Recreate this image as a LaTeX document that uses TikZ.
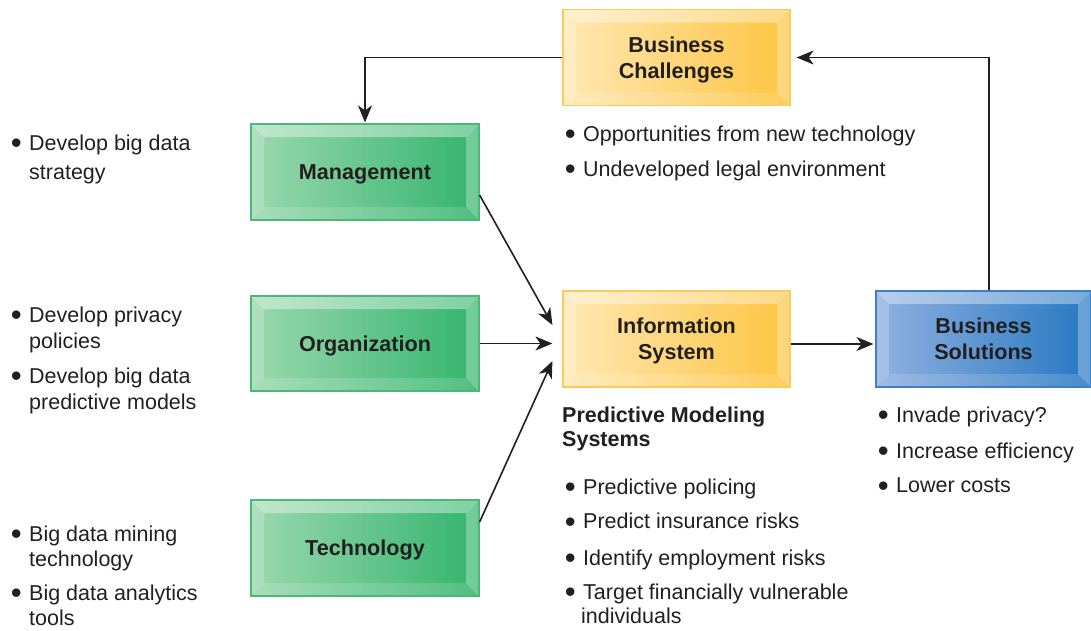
\documentclass[tikz,border=0pt]{standalone}
\usepackage{fontspec}
\setmainfont{Liberation Sans}
\usetikzlibrary{arrows.meta}
\definecolor{ink}{HTML}{231F20}
\definecolor{gL}{HTML}{9AD8AE}\definecolor{gR}{HTML}{33B46D}\definecolor{gB}{HTML}{4CB878}
\definecolor{yL}{HTML}{FEE8B4}\definecolor{yR}{HTML}{FDC440}\definecolor{yB}{HTML}{F8CB5A}
\definecolor{bL}{HTML}{8FB0DF}\definecolor{bR}{HTML}{2778C2}\definecolor{bB}{HTML}{3F7EC6}
\newcommand\pb[1]{(path picture bounding box.#1)}
\newcommand\pbs[3]{([xshift=#2,yshift=#3]path picture bounding box.#1)}
\tikzset{
  bevel/.style={rectangle, draw=#1B, line width=1.2pt, left color=#1L, right color=#1R,
    text=ink, font=\fontsize{21.6}{26}\selectfont\bfseries, align=center, inner sep=0pt,
    text depth=0pt, minimum width=228pt, minimum height=96pt,
    path picture={
      \fill[white,opacity=.38] \pb{north west} -- \pb{north east} -- \pbs{north east}{-13pt}{-13pt} -- \pbs{north west}{13pt}{-13pt} -- cycle;
      \fill[white,opacity=.22] \pb{north west} -- \pb{south west} -- \pbs{south west}{13pt}{13pt} -- \pbs{north west}{13pt}{-13pt} -- cycle;
      \fill[white,opacity=.15] \pb{south west} -- \pb{south east} -- \pbs{south east}{-13pt}{13pt} -- \pbs{south west}{13pt}{13pt} -- cycle;
      \fill[white,opacity=.30] \pb{north east} -- \pb{south east} -- \pbs{south east}{-13pt}{13pt} -- \pbs{north east}{-13pt}{-13pt} -- cycle;
    }},
  arr/.style={draw=ink, line width=1.6pt, -{Stealth[length=17pt,width=14pt,inset=5pt]}},
  txt/.style={inner sep=0pt, anchor=base west, text=ink, font=\fontsize{21.5}{26}\selectfont},
  hd/.style={txt, font=\fontsize{21.5}{26}\selectfont\bfseries},
}
\newcommand\bu{\makebox[0pt][r]{\raisebox{-3.6pt}{\scalebox{1.45}{\textbullet}}\hspace{7.5pt}}}
\begin{document}
\begin{tikzpicture}[x=1pt,y=-1pt]
\useasboundingbox (0,0) rectangle (1091,630);
% boxes
\node[bevel=y, minimum width=227pt] (chal) at (676.5,57.5) {Business\\Challenges};
\node[bevel=g] (mgmt) at (365,172) {Management};
\node[bevel=g, minimum height=95pt] (org) at (365,343.5) {Organization};
\node[bevel=g] (tech) at (365,548) {Technology};
\node[bevel=y, minimum width=227pt] (info) at (676.5,339) {Information\\System};
\node[bevel=b, minimum width=215pt] (sol) at (983.5,339) {Business\\Solutions};
% connectors
\draw[arr] (chal.west) -| ([yshift=1pt]mgmt.north);
\draw[arr] ([yshift=-23pt]mgmt.east) -- ([xshift=-10pt,yshift=14pt]info.west);
\draw[arr] (org.east) -- ([xshift=-10pt]org.east -| info.west);
\draw[arr] ([yshift=26pt]tech.east) -- ([xshift=-10pt,yshift=-22pt]info.west);
\draw[arr] ([yshift=-5pt]info.east) -- ([xshift=-2pt,yshift=-5pt]sol.west);
\draw[arr] ([xshift=5.5pt]sol.north) |- ([xshift=6pt]chal.east);
% left lists
\node[txt] (l1a) at (29,150) {\bu Develop big data};
\node[txt] (l1b) at (29,179) {strategy};
\node[txt] (l2a) at (29,322) {\bu Develop privacy};
\node[txt] (l2b) at (29,348) {policies};
\node[txt] (l3a) at (29,383) {\bu Develop big data};
\node[txt] (l3b) at (29,409) {predictive models};
\node[txt] (l4a) at (29,541) {\bu Big data mining};
\node[txt] (l4b) at (29,566) {technology};
\node[txt] (l5a) at (29,600) {\bu Big data analytics};
\node[txt] (l5b) at (29,625.5) {tools};
% challenges list
\node[txt] (c1) at (583,141) {\bu Opportunities from new technology};
\node[txt] (c2) at (583,176) {\bu Undeveloped legal environment};
% predictive modeling
\node[hd] (p0a) at (562,422.5) {Predictive Modeling};
\node[hd] (p0b) at (562,446.5) {Systems};
\node[txt] (p1) at (583,494) {\bu Predictive policing};
\node[txt] (p2) at (583,528.5) {\bu Predict insurance risks};
\node[txt] (p3) at (583,565) {\bu Identify employment risks};
\node[txt] (p4a) at (583,599) {\bu Target financially vulnerable};
\node[txt] (p4b) at (581,623) {individuals};
% solutions list
\node[txt] (s1) at (896,422) {\bu Invade privacy?};
\node[txt] (s2) at (896,458) {\bu Increase efficiency};
\node[txt] (s3) at (896,492.5) {\bu Lower costs};
\end{tikzpicture}
\end{document}
